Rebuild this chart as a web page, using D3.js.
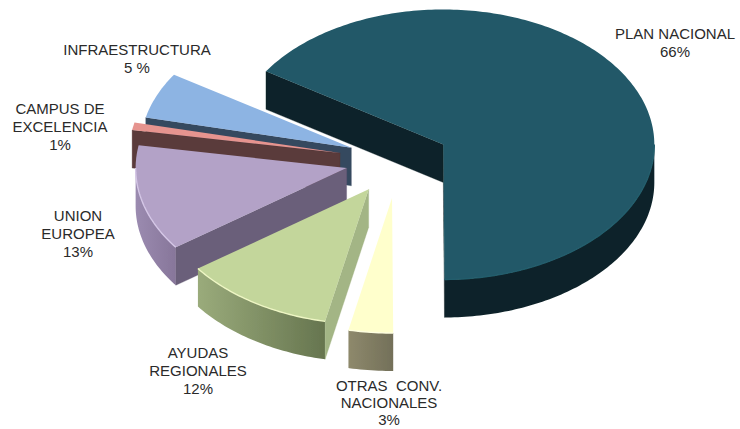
<!DOCTYPE html>
<html>
<head>
<meta charset="utf-8">
<script src="https://cdn.jsdelivr.net/npm/d3@7"></script>
<style>
html,body{margin:0;padding:0;background:#fff;overflow:hidden}
svg{display:block}
text{font-family:"Liberation Sans",Arial,sans-serif;font-size:15px;fill:#2a2a2a;text-anchor:middle}
</style>
</head>
<body>
<svg id="c" width="740" height="429"></svg>
<script>
const categories = ["PLAN NACIONAL","OTRAS CONV. NACIONALES","AYUDAS REGIONALES","UNION EUROPEA","CAMPUS DE EXCELENCIA","INFRAESTRUCTURA"];
const values = [65.8,3.4,11.7,12.7,0.9,5.5];
const explosion = [0.245,0.28,0.255,0.25,0.28,0.24];
const valueLabels = ["66%","3%","12%","13%","1%","5 %"];
const labelLines = [["PLAN NACIONAL"],["OTRAS  CONV.","NACIONALES"],["AYUDAS","REGIONALES"],["UNION","EUROPEA"],["CAMPUS DE","EXCELENCIA"],["INFRAESTRUCTURA"]];
const labelAnchors = [[675,39],[389,391],[198,358],[78,221],[60,114],[137,55]];
const labelLeading = [18,17,18,18,18,18];
const topColors = ["#215968","#ffffcc","#c3d69b","#b3a2c7","#e6948f","#8db4e3"];
const rimColors = ["#235d6c","#ffffe0","#eef6c4","#d4c6e6","#e6948f","#8db4e3"];
const radialWall = ["#0e2329","#8a8569","#a3b585","#6b5f7a","#5a3a3a","#36495f"];
const outerWallFrom = ["#0e2329","#8e896c","#9aab7b","#9b8bb0","#5a3a3a","#36495f"];
const outerWallTo = ["#0e2329","#737059","#66754f","#87769a","#5a3a3a","#36495f"];

const svg = d3.select("#c");
const rx = 211, ry = 135, depth = 38, cx = 398, cy = 160.4;
const sx = d3.scaleLinear().domain([-1,1]).range([cx-rx,cx+rx]);
const sy = d3.scaleLinear().domain([-1,1]).range([cy-ry,cy+ry]);
const a0 = 302.8*Math.PI/180;
const pie = d3.pie().sort(null).value(d=>d.value).startAngle(a0).endAngle(a0+2*Math.PI);

const rows = categories.map((c,i)=>({c,i,value:values[i],e:explosion[i]}));
const slices = pie(rows).map(p=>{
  const mid=(p.startAngle+p.endAngle)/2, e=p.data.e;
  const ux=e*Math.sin(mid), uy=-e*Math.cos(mid);
  const pt=(a,r=1)=>[sx(ux+r*Math.sin(a)),sy(uy-r*Math.cos(a))];
  return {...p,i:p.data.i,apex:pt(0,0),pt};
});
const line=d3.line();
const defs=svg.append("defs");
defs.append("filter").attr("id","soft").attr("x","-5%").attr("y","-5%").attr("width","110%").attr("height","110%")
  .append("feGaussianBlur").attr("stdDeviation",0.45);
const g=svg.append("g").attr("filter","url(#soft)");
const TAU=2*Math.PI, step=Math.PI/180;
function samples(a,b){const s=d3.range(a,b,step);s.push(b);return s;}
const down=p=>[p[0],p[1]+depth];

slices.slice().sort((p,q)=>d3.ascending(p.apex[1],q.apex[1])).forEach(s=>{
  const {i,pt,apex,startAngle:a,endAngle:b}=s;
  const wall=(x)=>g.append("path").attr("d",line([apex,pt(x),down(pt(x)),down(apex)])+"Z")
     .attr("fill",radialWall[i]).attr("stroke",radialWall[i]).attr("stroke-width",0.3);
  const ranges=[[Math.PI/2,1.5*Math.PI],[Math.PI/2+TAU,1.5*Math.PI+TAU]];
  ranges.forEach(([lo,hi])=>{
    const p0=Math.max(a,lo),p1=Math.min(b,hi);
    if(p1<=p0) return;
    const rim=samples(p0,p1).map(t=>pt(t));
    const xs=d3.extent(rim,d=>d[0]);
    const id="g"+i;
    const lg=defs.append("linearGradient").attr("id",id).attr("gradientUnits","userSpaceOnUse")
      .attr("x1",xs[0]).attr("x2",xs[1]).attr("y1",0).attr("y2",0);
    lg.append("stop").attr("offset",0).attr("stop-color",outerWallFrom[i]);
    lg.append("stop").attr("offset",1).attr("stop-color",outerWallTo[i]);
    g.append("path").attr("d",line(rim.concat(rim.slice().reverse().map(down)))+"Z").attr("fill",`url(#${id})`);
  });
  if(Math.sin(a)<0) wall(a);
  if(Math.sin(b)>0) wall(b);
  const arc=samples(a,b).map(t=>pt(t));
  g.append("path").attr("d",line([apex,...arc])+"Z").attr("fill",topColors[i]);
  ranges.forEach(([lo,hi])=>{
    const p0=Math.max(a,lo),p1=Math.min(b,hi);
    if(p1>p0) g.append("path").attr("d",line(samples(p0,p1).map(t=>pt(t)))).attr("fill","none")
       .attr("stroke",rimColors[i]).attr("stroke-width",1.4);
  });
});

categories.forEach((c,i)=>{
  const [x,y]=labelAnchors[i];
  const t=svg.append("text").attr("x",x).attr("y",y).attr("xml:space","preserve");
  labelLines[i].concat(valueLabels[i]).forEach((l,j)=>{
    t.append("tspan").attr("x",x).attr("y",y+j*labelLeading[i]).text(l);
  });
});
</script>
</body>
</html>
